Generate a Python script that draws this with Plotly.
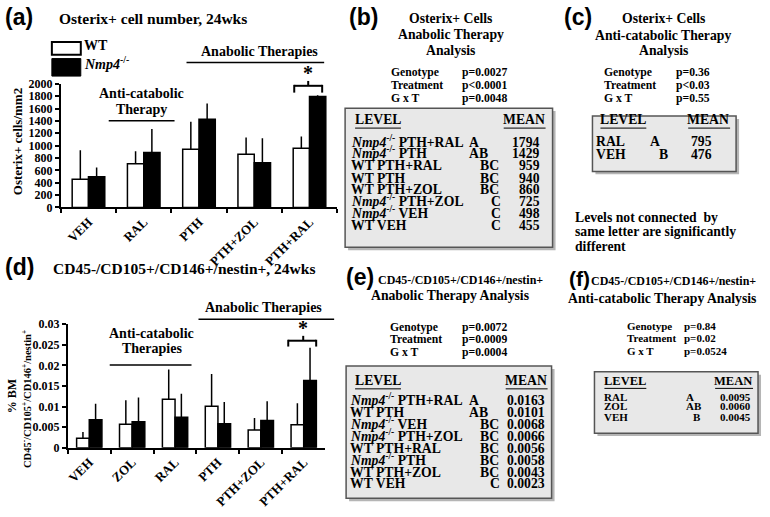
import plotly.graph_objects as go

# ---------------- data ----------------
cats_a = ["VEH", "RAL", "PTH", "PTH+ZOL", "PTH+RAL"]
wt_a = [455, 705, 940, 860, 959]
ko_a = [498, 890, 1429, 725, 1794]
wt_a_err = [470, 205, 445, 270, 190]
ko_a_err = [150, 380, 255, 395, 20]
yticks_a = [0, 200, 400, 600, 800, 1000, 1200, 1400, 1600, 1800, 2000]

cats_d = ["VEH", "ZOL", "RAL", "PTH", "PTH+ZOL", "PTH+RAL"]
wt_d = [0.0023, 0.0057, 0.0118, 0.0101, 0.0043, 0.0056]
ko_d = [0.0068, 0.0063, 0.0074, 0.0058, 0.0066, 0.0163]
wt_d_err = [0.0015, 0.0058, 0.0072, 0.0078, 0.0029, 0.0052]
ko_d_err = [0.0039, 0.0059, 0.0057, 0.0053, 0.0047, 0.0080]
yticks_d = [0, 0.005, 0.01, 0.015, 0.02, 0.025, 0.03]
yticktext_d = ["0", "0.005", "0.01", "0.015", "0.02", "0.025", "0.03"]

KO = "<i>Nmp4</i><sup>-/-</sup>"

b_levels = [KO + " PTH+RAL", KO + " PTH", "WT PTH+RAL", "WT PTH", "WT PTH+ZOL",
            KO + " PTH+ZOL", KO + " VEH", "WT VEH"]
b_letters = ["A", "AB", "BC", "BC", "BC", "C", "C", "C"]
b_means = ["1794", "1429", "959", "940", "860", "725", "498", "455"]
b_stats = [("Genotype", "p=0.0027"), ("Treatment", "p<0.0001"), ("G x T", "p=0.0048")]

c_levels = ["RAL", "VEH"]
c_letters = ["A", "B"]
c_means = ["795", "476"]
c_stats = [("Genotype", "p=0.36"), ("Treatment", "p<0.03"), ("G x T", "p=0.55")]

e_levels = [KO + " PTH+RAL", "WT PTH", KO + " VEH", KO + " PTH+ZOL", "WT PTH+RAL",
            KO + " PTH", "WT PTH+ZOL", "WT VEH"]
e_letters = ["A", "AB", "BC", "BC", "BC", "BC", "BC", "C"]
e_means = ["0.0163", "0.0101", "0.0068", "0.0066", "0.0056", "0.0058", "0.0043", "0.0023"]
e_stats = [("Genotype", "p=0.0072"), ("Treatment", "p=0.0009"), ("G x T", "p=0.0004")]

f_levels = ["RAL", "ZOL", "VEH"]
f_letters = ["A", "AB", "B"]
f_means = ["0.0095", "0.0060", "0.0045"]
f_stats = [("Genotype", "p=0.84"), ("Treatment", "p=0.02"), ("G x T", "p=0.0524")]

# ---------------- helpers ----------------
W, H = 770, 517
SERIF = "Liberation Serif, Times New Roman, serif"
SANS = "Liberation Sans, Arial, sans-serif"


def X(px):
    return px / W


def Y(py):
    return 1 - py / H


annotations = []
shapes = []


def txt(x, y, s, size=13.7, anchor="left", family=SERIF, bold=True, angle=0):
    # y is the visual centre of the capitals of a line of text; anchor at the bottom
    # so that superscripts do not shift the baseline
    if angle == 0:
        yy, ya = y + 0.42 * size, "bottom"
    else:
        yy, ya = y, "middle"
    annotations.append(dict(
        x=X(x), y=Y(yy), xref="paper", yref="paper",
        text=("<b>" + s + "</b>") if bold else s,
        showarrow=False, xanchor=anchor, yanchor=ya,
        font=dict(family=family, size=size, color="black"),
        textangle=angle, borderpad=0))


def line(x0, y0, x1, y1, w=1.5, color="black"):
    shapes.append(dict(type="line", xref="paper", yref="paper",
                       x0=X(x0), y0=Y(y0), x1=X(x1), y1=Y(y1),
                       line=dict(color=color, width=w)))


def box(x0, y0, x1, y1):
    shapes.append(dict(type="rect", xref="paper", yref="paper",
                       x0=X(x0 + 3), y0=Y(y0 + 3), x1=X(x1 + 3), y1=Y(y1 + 3),
                       fillcolor="#b5b5b5", line=dict(width=0), layer="below"))
    shapes.append(dict(type="rect", xref="paper", yref="paper",
                       x0=X(x0), y0=Y(y0), x1=X(x1), y1=Y(y1),
                       fillcolor="#e8e8e8", line=dict(color="#555555", width=1.5),
                       layer="below"))


def table(x_left, x_head, head_y, mean_right, mean_head_right, rows_y, levels, letters,
          means, cols, size, head_size, lvl_w, mean_w):
    txt(x_head, head_y, "LEVEL", size=head_size)
    txt(mean_head_right, head_y, "MEAN", size=head_size, anchor="right")
    uy = head_y + head_size * 0.4
    line(x_head + 1, uy, x_head + 1 + lvl_w, uy, 1)
    line(mean_head_right - mean_w, uy, mean_head_right, uy, 1)
    for yy, lv, le, mn in zip(rows_y, levels, letters, means):
        txt(x_left, yy, lv, size=size)
        txt(cols[le[0]], yy, le, size=size)
        txt(mean_right, yy, mn, size=size, anchor="right")


def stats(xg, xp, ys, st, size=11.7):
    for yy, (a, b) in zip(ys, st):
        txt(xg, yy, a, size=size)
        txt(xp, yy, b, size=size)


fig = go.Figure()


def bars(cats, vals, errs, color, xa, ya, name):
    fig.add_trace(go.Bar(
        x=cats, y=vals, name=name, xaxis=xa, yaxis=ya,
        marker=dict(color=color, line=dict(color="black", width=1.5)),
        error_y=dict(type="data", array=errs, arrayminus=[0] * len(vals),
                     symmetric=False, color="black", thickness=1.5, width=0),
        showlegend=False))


bars(cats_a, wt_a, wt_a_err, "white", "x", "y", "WT")
bars(cats_a, ko_a, ko_a_err, "black", "x", "y", "Nmp4-/-")
bars(cats_d, wt_d, wt_d_err, "white", "x2", "y2", "WT")
bars(cats_d, ko_d, ko_d_err, "black", "x2", "y2", "Nmp4-/-")

ytickfont = dict(family=SERIF, size=12, color="black", weight="bold")
xtickfont = dict(family=SERIF, size=13, color="black", weight="bold")
axis_common = dict(showline=True, linecolor="black", linewidth=2, ticks="outside",
                   ticklen=4, tickwidth=2, tickcolor="black", showgrid=False,
                   zeroline=False, fixedrange=True)

# ---------------- panel (a) text ----------------
txt(2, 15, "(a)", size=23, family=SANS)
txt(56, 15, "Osterix+ cell number, 24wks", size=15.5)
shapes.append(dict(type="rect", xref="paper", yref="paper", x0=X(50), y0=Y(36), x1=X(79),
                   y1=Y(49), fillcolor="white", line=dict(color="black", width=2)))
shapes.append(dict(type="rect", xref="paper", yref="paper", x0=X(50), y0=Y(53), x1=X(79),
                   y1=Y(71), fillcolor="black", line=dict(color="black", width=1)))
txt(81, 42, "WT", size=14)
txt(81, 62, KO, size=14)
txt(140, 92, "Anti-catabolic", size=14, anchor="center")
txt(140, 108, "Therapy", size=14, anchor="center")
line(107, 117, 173, 117)
txt(258, 49, "Anabolic Therapies", size=14, anchor="center")
line(185, 57, 323, 57)
txt(15, 138, "Osterix+ cells/mm2", size=13, anchor="center", angle=-90)
# bracket (a)
line(293, 81, 321, 81, 2)
line(293, 80, 293, 88, 2)
line(321, 80, 321, 88, 2)
line(307, 81, 307, 76, 2)
txt(307, 72, "*", size=20, anchor="center")

# ---------------- panel (d) text ----------------
txt(2, 272, "(d)", size=23, family=SANS)
txt(50, 272, "CD45-/CD105+/CD146+/nestin+, 24wks", size=15.5)
txt(150, 338, "Anti-catabolic", size=14, anchor="center")
txt(150, 354, "Therapies", size=14, anchor="center")
line(108, 368, 190, 368)
txt(262, 312, "Anabolic Therapies", size=14, anchor="center")
line(197, 321, 333, 321)
txt(10, 400, "% BM", size=12, anchor="center", angle=-90)
txt(24, 403, "CD45<sup>-</sup>/CD105<sup>+</sup>/CD146<sup>+</sup>/nestin<sup>+</sup>",
    size=10.5, anchor="center", angle=-90)
line(287, 343, 315, 343, 2)
line(287, 342, 287, 349, 2)
line(315, 342, 315, 349, 2)
line(302, 343, 302, 338, 2)
txt(302, 334, "*", size=20, anchor="center")

# ---------------- panel (b) ----------------
txt(347, 15, "(b)", size=23, family=SANS)
txt(450, 15, "Osterix+ Cells", anchor="center")
txt(450, 31, "Anabolic Therapy", anchor="center")
txt(450, 48, "Analysis", anchor="center")
stats(389, 460, [70, 83, 97], b_stats)
box(344, 104, 552, 247)
table(349, 353, 119, 540, 545, [142, 154, 166, 179, 191, 203, 215, 228],
      b_levels, b_letters, b_means, {"A": 467, "B": 478, "C": 489}, 13.7, 13.7, 46, 42)

# ---------------- panel (c) ----------------
txt(562, 15, "(c)", size=23, family=SANS)
txt(663, 15, "Osterix+ Cells", anchor="center")
txt(663, 32, "Anti-catabolic Therapy", anchor="center")
txt(663, 48, "Analysis", anchor="center")
stats(603, 675, [70, 83, 97], c_stats)
box(592, 112, 736, 169)
table(595, 599, 119, 713, 730, [141, 155], c_levels, c_letters, c_means,
      {"A": 649, "B": 658}, 13.7, 13.7, 46, 42)
txt(573, 219, "Levels not connected  by", size=13.7)
txt(573, 234, "same letter are significantly", size=13.7)
txt(573, 249, "different", size=13.7)

# ---------------- panel (e) ----------------
txt(344, 282, "(e)", size=23, family=SANS)
txt(376, 284, "CD45-/CD105+/CD146+/nestin+", size=12)
txt(449, 299, "Anabolic Therapy Analysis", anchor="center")
stats(388, 460, [332, 345, 358], e_stats)
box(345, 369, 551, 505)
table(348, 353, 387, 545, 547, [407, 420, 432, 444, 457, 469, 481, 493],
      e_levels, e_letters, e_means, {"A": 467, "B": 478, "C": 488}, 13.7, 13.7, 46, 42)

# ---------------- panel (f) ----------------
txt(567, 283, "(f)", size=21, family=SANS)
txt(590, 285, "CD45-/CD105+/CD146+/nestin+", size=12)
txt(662, 303, "Anti-catabolic Therapy Analysis", anchor="center")
stats(626, 683, [330, 343, 356], f_stats, size=11)
box(594, 375, 758, 438)
table(603, 603, 387, 752, 753, [403, 413, 424], f_levels, f_letters, f_means,
      {"A": 685, "B": 692}, 11, 12.5, 42, 38)

fig.update_layout(
    width=W, height=H, margin=dict(l=0, r=0, t=0, b=0),
    paper_bgcolor="white", plot_bgcolor="rgba(0,0,0,0)",
    barmode="group", bargap=0.41, bargroupgap=0,
    xaxis=dict(domain=[X(59), X(336)], anchor="y", type="category",
               range=[-0.5, len(cats_a) - 0.5], tickson="boundaries", tickangle=-45,
               tickfont=xtickfont, **axis_common),
    yaxis=dict(domain=[Y(206), Y(79)], anchor="x", range=[0, 2000],
               tickvals=yticks_a, tickfont=ytickfont, **axis_common),
    xaxis2=dict(domain=[X(66), X(324)], anchor="y2", type="category",
                range=[-0.5, len(cats_d) - 0.5], tickson="boundaries", tickangle=-45,
                tickfont=xtickfont, **axis_common),
    yaxis2=dict(domain=[Y(453), Y(326)], anchor="x2", range=[0, 0.03],
                tickvals=yticks_d, ticktext=yticktext_d, tickfont=ytickfont,
                **axis_common),
    annotations=annotations, shapes=shapes,
)

fig.write_html("out.html", config={"displayModeBar": False})
with open("out.html", "r", encoding="utf-8") as fh:
    html = fh.read()
html = html.replace("<body>", '<body style="margin:0;padding:0">', 1)
with open("out.html", "w", encoding="utf-8") as fh:
    fh.write(html)
